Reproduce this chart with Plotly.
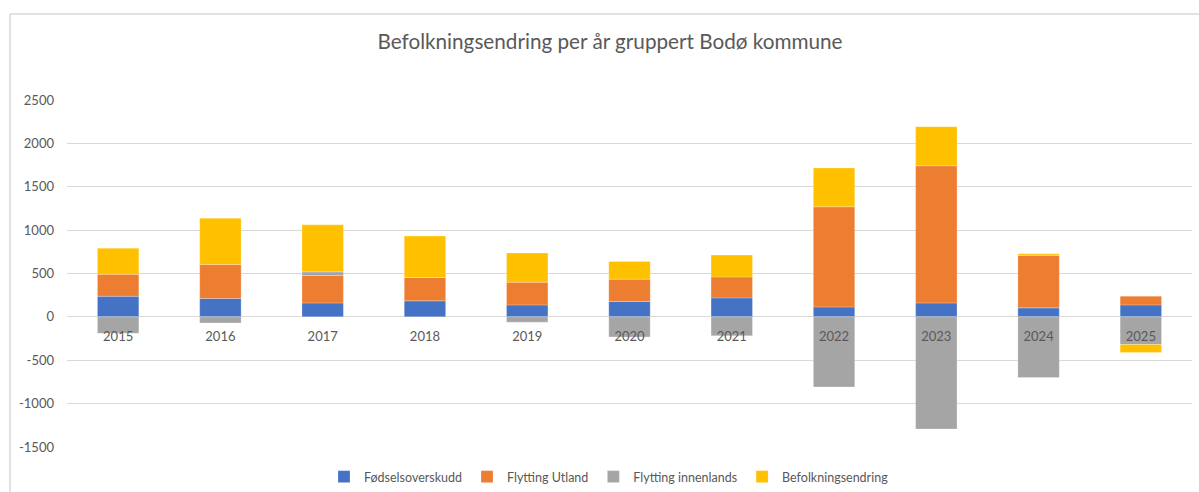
import plotly.graph_objects as go

# Population change components per year, Bodø municipality
years = ["2015", "2016", "2017", "2018", "2019", "2020", "2021", "2022", "2023", "2024", "2025"]
fodselsoverskudd = [238, 212, 161, 185, 138, 177, 219, 115, 161, 104, 138]
flytting_utland = [254, 392, 316, 269, 262, 258, 242, 1154, 1581, 604, 101]
flytting_innenlands = [-190, -70, 42, 0, -61, -231, -219, -808, -1292, -700, -319]
befolkningsendring = [300, 534, 542, 477, 335, 204, 251, 447, 450, 19, -92]

y_ticks = [-1500, -1000, -500, 0, 500, 1000, 1500, 2000, 2500]

series = [
    ("Fødselsoverskudd", fodselsoverskudd, "#4472C4"),
    ("Flytting Utland", flytting_utland, "#ED7D31"),
    ("Flytting innenlands", flytting_innenlands, "#A5A5A5"),
    ("Befolkningsendring", befolkningsendring, "#FFC000"),
]

FONT = "Lato, Open Sans, sans-serif"
TEXT = "#595959"
GRID = "#D9D9D9"

fig = go.Figure()
for name, vals, color in series:
    fig.add_trace(go.Bar(
        x=years, y=vals, name=name,
        marker=dict(color=color, line=dict(color="rgba(255,255,255,0.5)", width=0.5)),
    ))

W, H = 1199, 492
ML, MR, MT, MB = 67, 7, 100, 45
pw, ph = W - ML - MR, H - MT - MB

def px_x(x):
    return (x - ML) / pw

def px_y(y):
    return (H - MB - y) / ph

fig.update_layout(
    width=W, height=H,
    margin=dict(l=ML, r=MR, t=MT, b=MB, autoexpand=False),
    barmode="relative",
    bargap=0.595,
    paper_bgcolor="white",
    plot_bgcolor="white",
    font=dict(family=FONT, size=13, color=TEXT),
    title=dict(
        text="Befolkningsendring per år gruppert Bodø kommune",
        x=610 / W, xref="container", xanchor="center",
        y=1 - 42 / H, yref="container", yanchor="middle",
        font=dict(family=FONT, size=20.7, color=TEXT),
    ),
    showlegend=True,
    legend=dict(
        orientation="h",
        x=px_x(609), xanchor="center",
        y=px_y(477), yanchor="middle",
        font=dict(family=FONT, size=12.5, color=TEXT),
        itemwidth=30,
        traceorder="normal",
    ),
    xaxis=dict(
        type="category",
        anchor="free",
        position=1500 / 4000,
        showgrid=False,
        showline=False,
        zeroline=False,
        ticks="",
        ticklabelstandoff=10,
        tickfont=dict(family=FONT, size=13, color=TEXT),
        fixedrange=True,
    ),
    yaxis=dict(
        range=[-1500, 2500],
        tickvals=y_ticks,
        ticktext=[str(v) for v in y_ticks],
        showgrid=True,
        gridcolor=GRID,
        gridwidth=1,
        zeroline=True,
        zerolinecolor=GRID,
        zerolinewidth=1,
        showline=False,
        ticks="",
        ticklabelstandoff=12,
        tickfont=dict(family=FONT, size=13, color=TEXT),
        fixedrange=True,
    ),
    shapes=[
        dict(type="line", xref="paper", yref="paper",
             x0=px_x(10), x1=px_x(10), y0=px_y(14), y1=px_y(H + 5),
             line=dict(color=GRID, width=1.5)),
        dict(type="line", xref="paper", yref="paper",
             x0=px_x(10), x1=px_x(W + 5), y0=px_y(14), y1=px_y(14),
             line=dict(color=GRID, width=1.5)),
    ],
)

fig.write_html("out.html")
